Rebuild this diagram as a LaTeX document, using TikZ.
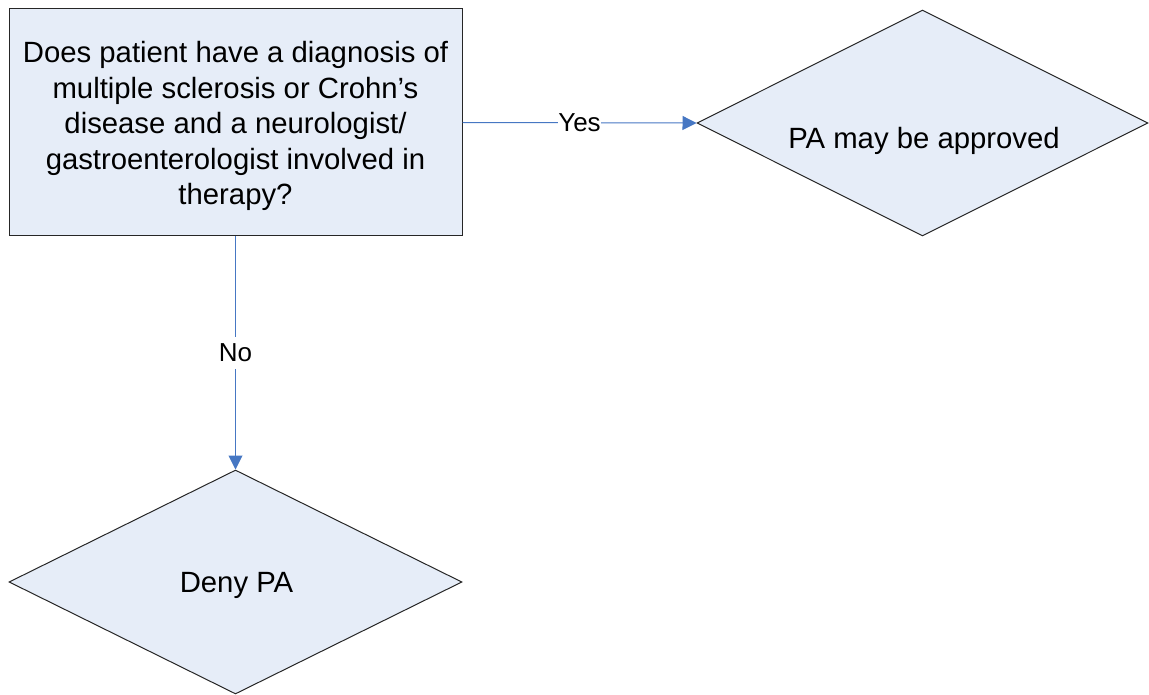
\documentclass[tikz,border=0pt]{standalone}
\usepackage{fontspec}
\setmainfont{Liberation Sans}
\usetikzlibrary{shapes.geometric,arrows.meta}
\definecolor{boxfill}{HTML}{E6EDF8}
\definecolor{linkblue}{HTML}{4677C3}
\tikzset{
  shapebox/.style={draw=black!85, fill=boxfill, line width=1pt, inner sep=0pt},
  txt/.style={font=\fontsize{29.3}{35.5}\selectfont, inner sep=0pt, anchor=base},
  link/.style={draw=linkblue, line width=1pt, -{Triangle[length=14pt,width=14pt]}},
  linklabel/.style={font=\fontsize{26}{30}\selectfont, fill=white, inner xsep=0.5pt, inner ysep=7pt}
}
\begin{document}
\begin{tikzpicture}[x=1pt,y=-1pt]
\useasboundingbox (0,0) rectangle (1149,695);
\node[shapebox, minimum width=453pt, minimum height=227pt] (q) at (235.5,122.5) {};
\node[shapebox, diamond, minimum width=451pt, minimum height=226pt] (yes) at (922.5,123) {};
\node[shapebox, diamond, minimum width=453pt, minimum height=224pt] (no) at (235.5,582) {};
\node[txt] (qt) at (235.5,63) {\begin{tabular}[t]{@{}c@{}}Does patient have a diagnosis of\\multiple sclerosis or Crohn’s\\disease and a neurologist/\\gastroenterologist involved in\\therapy?\end{tabular}};
\node[txt] (yt) at (924,149) {PA may be approved};
\node[txt] (nt) at (236.5,592) {Deny PA};
\draw[link] (q.east) -- node[linklabel, pos=0.5] (ylab) {Yes} (yes.west);
\draw[link] (q.south) -- node[linklabel, pos=0.5] (nlab) {No} (no.north);
\end{tikzpicture}
\end{document}
